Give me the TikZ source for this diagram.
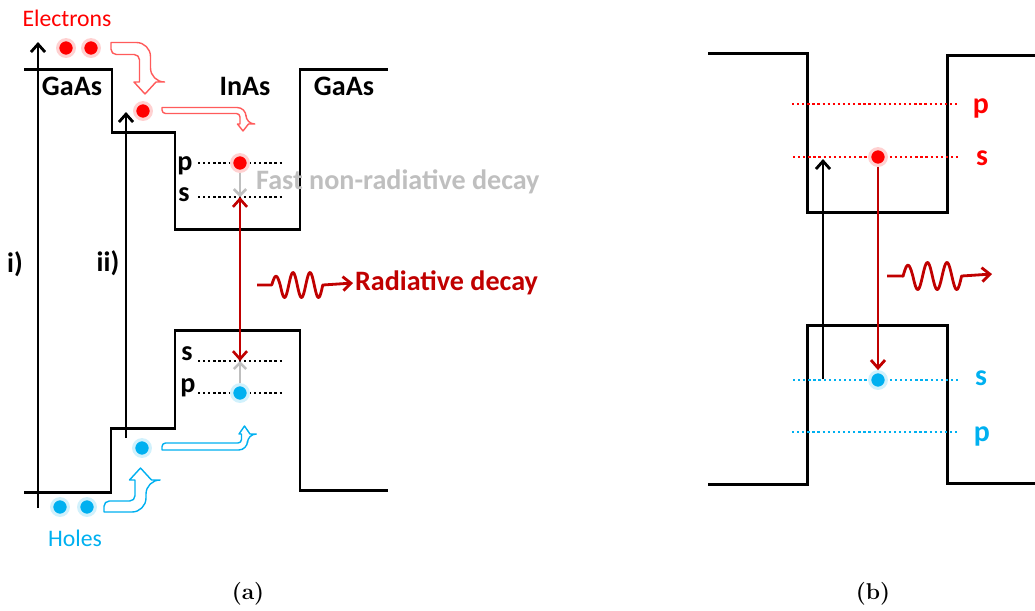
\documentclass[tikz,border=0pt]{standalone}
\usepackage{fontspec}
\newfontfamily\calib{Carlito}
\definecolor{qdred}{HTML}{FF0000}
\definecolor{qdlite}{HTML}{FF5B5B}
\definecolor{qddark}{HTML}{C00000}
\definecolor{qdblue}{HTML}{00B0F0}
\definecolor{qdgray}{HTML}{BFBFBF}
\usetikzlibrary{arrows.meta,positioning}

\begin{document}
\begin{tikzpicture}[x=0.02cm,y=-0.02cm,
  band/.style={line width=1.7pt},
  lvl/.style={line width=1.5pt,dash pattern=on 1.3pt off 1.6pt},
  dot/.style={circle,inner sep=0pt,minimum size=9.5pt,line width=1.8pt},
  edot/.style={dot,fill=qdred,draw=qdred!18},
  hdot/.style={dot,fill=qdblue,draw=qdblue!18},
  lab/.style={font=\calib\bfseries\fontsize{16}{18}\selectfont},
  blab/.style={font=\calib\bfseries\fontsize{17}{19}\selectfont},
  small/.style={font=\calib\fontsize{13.5}{16}\selectfont},
  up/.style={-{Straight Barb[length=4.5pt,width=8pt]},line width=1.6pt},
  relax/.style={-{Straight Barb[length=3.5pt,width=7pt]},qdgray,line width=1.5pt},
  rad/.style={{Straight Barb[length=4.5pt,width=8pt]}-{Straight Barb[length=4.5pt,width=8pt]},qddark,line width=1.5pt},
  phot/.style={-{Straight Barb[length=4.5pt,width=8pt]},qddark,line width=1.6pt,line join=round},
  hollow/.style={line width=0.8pt,fill=white,line join=round},
  panel/.style={font=\bfseries\fontsize{13}{15}\selectfont}]
\useasboundingbox (0,0) rectangle (1035,610);

% (a) band edges
\draw[band] (24,69) -| (112,132) -| (175,229) -| (300,69) -- (388,69);
\draw[band] (24,492) -| (111,428) -| (175,330) -| (300,490) -- (388,490);
\node[lab] (g1) at (72,86) {GaAs};
\node[lab] (in) at (245,86) {InAs};
\node[lab] (g2) at (344,86) {GaAs};

% excitation paths
\coordinate (ibot) at (38,508);
\coordinate (itop) at (38,42);
\coordinate (iibot) at (126,438);
\coordinate (iitop) at (126,112);
\draw[up] (ibot) -- (itop);
\draw[up] (iibot) -- (iitop);
\node[lab] (i) at (15,264) {i)};
\node[lab] (ii) at (108,263) {ii)};

% carriers
\node[small,text=qdred] (el) at (67,18) {Electrons};
\node[edot] (e1) at (66,48) {};
\node[edot] (e2) at (91,48) {};
\node[edot] (e3) at (143,111) {};
\node[small,text=qdblue] (ho) at (75,538) {Holes};
\node[hdot] (h1) at (60,507) {};
\node[hdot] (h2) at (87,507) {};
\node[hdot] (h3) at (142,448) {};

% capture arrows
\draw[hollow,draw=qdlite] (111,42.5) [rounded corners=8pt] -- (150.5,42.5) -- (150.5,82) [sharp corners]
  -- (156,82) -- (145,94) -- (134,82) -- (139.5,82) [rounded corners=3pt] -- (139.5,54.5) -- (111,54.5) [sharp corners] -- cycle;
\draw[hollow,draw=qdlite] (162,107.5) [rounded corners=5pt] -- (246,107.5) -- (246,124) [sharp corners]
  -- (248.5,124) -- (243,131) -- (237.5,124) -- (240,124) [rounded corners=2pt] -- (240,113.5) -- (162,113.5) [sharp corners] -- cycle;
\draw[hollow,draw=qdblue] (104,512) [rounded corners=8pt] -- (146,512) -- (146,480) [sharp corners]
  -- (151.5,480) -- (140.5,468) -- (129.5,480) -- (135,480) [rounded corners=3pt] -- (135,501) -- (104,501) [sharp corners] -- cycle;
\draw[hollow,draw=qdblue] (162,450) [rounded corners=5pt] -- (247.5,450) -- (247.5,434) [sharp corners]
  -- (250,434) -- (244.5,426) -- (239,434) -- (241.5,434) [rounded corners=2pt] -- (241.5,443) -- (162,443) [sharp corners] -- cycle;

% dot levels
\draw[lvl] (198,163) -- (282,163);
\draw[lvl] (198,197) -- (282,197);
\draw[lvl] (198,361) -- (282,361);
\draw[lvl] (198,393) -- (282,393);
\node[lab] (cp) at (185,166) {p};
\node[lab] (cs) at (184,195) {s};
\node[lab] (vs) at (187,354) {s};
\node[lab] (vp) at (188,388) {p};
\coordinate (cs0) at (240,197);
\coordinate (vs0) at (240,361);
\node[edot] (ep) at (240,163) {};
\node[hdot] (hp) at (240,393) {};
\draw[relax] (ep) -- (cs0);
\draw[relax] (hp) -- (vs0);
\node[lab,text=qdgray,anchor=west] (fast) at (250,182) {Fast non-radiative decay};
\draw[rad] (cs0) -- (vs0);

% photon
\node[lab,text=qddark,anchor=west,inner sep=1pt] (rd) at (353,283) {Radiative decay};
\coordinate (ph0) at (257,285);
\draw[phot] (ph0) -- (271.75,285)
  -- plot[domain=271.75:322.75,samples=90] (\x,{285-12.5*ifthenelse(\x<280.25,0.7,1)*sin(360/17*(\x-288.75))})
  -- (rd.west);

% (b) band edges
\draw[band] (708,53) -| (807,212) -| (947,55) -- (1035,55);
\draw[band] (708,484) -| (807,325) -| (947,483) -- (1035,483);
\draw[lvl,qdred] (792,104) -- (958,104);
\draw[lvl,qdred] (793,157) -- (960,157);
\draw[lvl,qdblue] (793,380) -- (960,380);
\draw[lvl,qdblue] (792,432) -- (958,432);
\node[blab,text=qdred] (bp) at (981,108) {p};
\node[blab,text=qdred] (bs) at (982,158) {s};
\node[blab,text=qdblue] (bvs) at (981,378) {s};
\node[blab,text=qdblue] (bvp) at (982,436) {p};
\node[edot] (be) at (878,157) {};
\node[hdot] (bh) at (878,380) {};
\coordinate (bbot) at (823,379);
\coordinate (btop) at (823,159);
\draw[up] (bbot) -- (btop);
\draw[phot] (be) -- (bh);
\coordinate (bph0) at (887,276);
\coordinate (bph) at (992,274);
\draw[phot] (bph0) -- (903,276)
  -- plot[domain=903:961.6,samples=90] (\x,{276-13.5*ifthenelse(\x<912.75,0.8,1)*sin(360/19.5*(\x-922.6))})
  -- (bph);

% captions
\node[panel] (ca) at (248,594) {(a)};
\node[panel] (cb) at (873,594) {(b)};
\end{tikzpicture}
\end{document}
